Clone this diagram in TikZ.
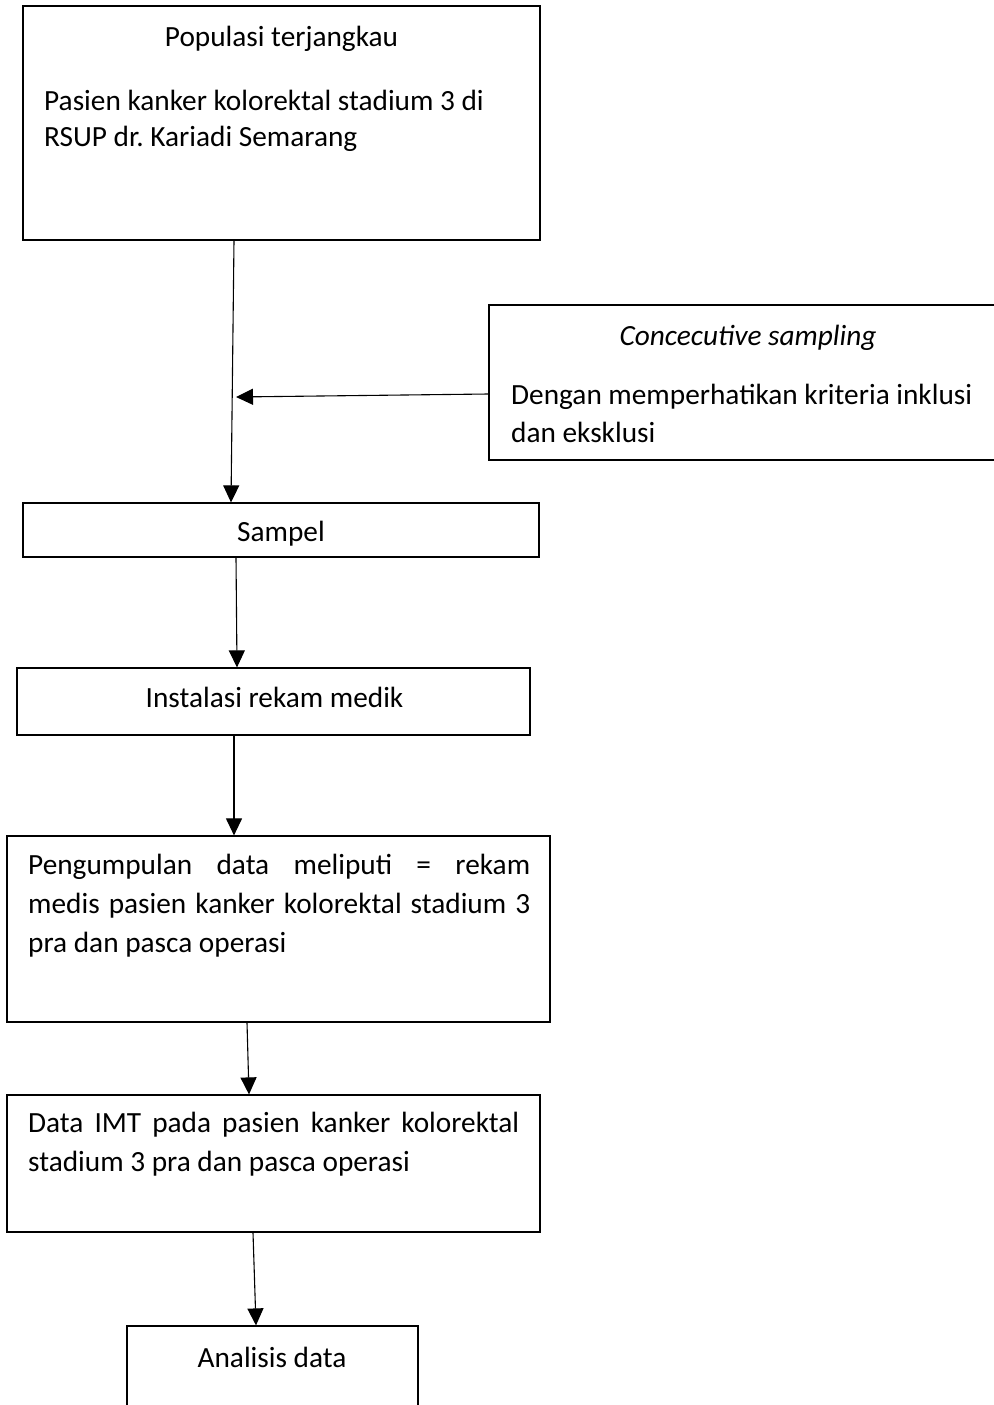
\documentclass[tikz,border=0pt]{standalone}
\usepackage{fontspec}
\setmainfont{Carlito}
\frenchspacing
\usetikzlibrary{arrows.meta}
\tikzset{
  box/.style={draw=black, line width=1.2pt, inner sep=0pt, fill=none},
  txt/.style={inner sep=0pt, font=\fontsize{29.3}{36}\selectfont},
  conn/.style={draw=black, line width=1.1pt, -{Triangle[length=17pt,width=16pt]}}
}
\begin{document}
\begin{tikzpicture}[x=1pt,y=-1pt]
\useasboundingbox (0,0) rectangle (993,1405);
% boxes
\node[box, minimum width=517, minimum height=234] (pop) at (281.5,123) {};
\node[box, minimum width=515, minimum height=155] (conc) at (746.5,382.5) {};
\node[box, minimum width=516, minimum height=54] (samp) at (281,530) {};
\node[box, minimum width=513, minimum height=67] (inst) at (273.5,701.5) {};
\node[box, minimum width=543, minimum height=186] (peng) at (278.5,929) {};
\node[box, minimum width=533, minimum height=137] (imt) at (273.5,1163.5) {};
\node[box, minimum width=291, minimum height=90] (anal) at (272.5,1371) {};
% texts
\node[txt, anchor=base] (t1) at (281.5,47) {Populasi terjangkau};
\node[txt, anchor=base west] (t2) at (44,110) {Pasien kanker kolorektal stadium 3 di};
\node[txt, anchor=base west] (t3) at (44,146) {RSUP dr. Kariadi Semarang};
\node[txt, anchor=base] (t4) at (748,345) {\itshape Concecutive sampling};
\node[txt, anchor=base west] (t5) at (511,404) {Dengan memperhatikan kriteria inklusi};
\node[txt, anchor=base west] (t6) at (511,442) {dan eksklusi};
\node[txt, anchor=base] (t7) at (281,541) {Sampel};
\node[txt, anchor=base] (t8) at (274.5,707) {Instalasi rekam medik};
\node[txt, anchor=base west] (t9) at (28,874) {\makebox[502pt][s]{Pengumpulan data meliputi = rekam}};
\node[txt, anchor=base west] (t10) at (28,913) {\makebox[502pt][s]{medis pasien kanker kolorektal stadium 3}};
\node[txt, anchor=base west] (t11) at (28,952) {pra dan pasca operasi};
\node[txt, anchor=base west] (t12) at (28,1132) {\makebox[491pt][s]{Data IMT pada pasien kanker kolorektal}};
\node[txt, anchor=base west] (t13) at (28,1171) {stadium 3 pra dan pasca operasi};
\node[txt, anchor=base] (t14) at (272,1367) {Analisis data};
% connectors
\coordinate (hit) at (236,397);
\draw[conn] ([xshift=-47.5]pop.south) -- ([xshift=-50]samp.north);
\draw[conn] ([yshift=-11.5]conc.west) -- (hit);
\draw[conn] ([xshift=-45]samp.south) -- ([xshift=-36.5]inst.north);
\draw[conn] ([xshift=-39.5]inst.south) -- ([xshift=-44.5]peng.north);
\draw[conn] ([xshift=-31.5]peng.south) -- ([xshift=-24.5]imt.north);
\draw[conn] ([xshift=-20.5]imt.south) -- ([xshift=-16.5]anal.north);
\end{tikzpicture}
\end{document}
